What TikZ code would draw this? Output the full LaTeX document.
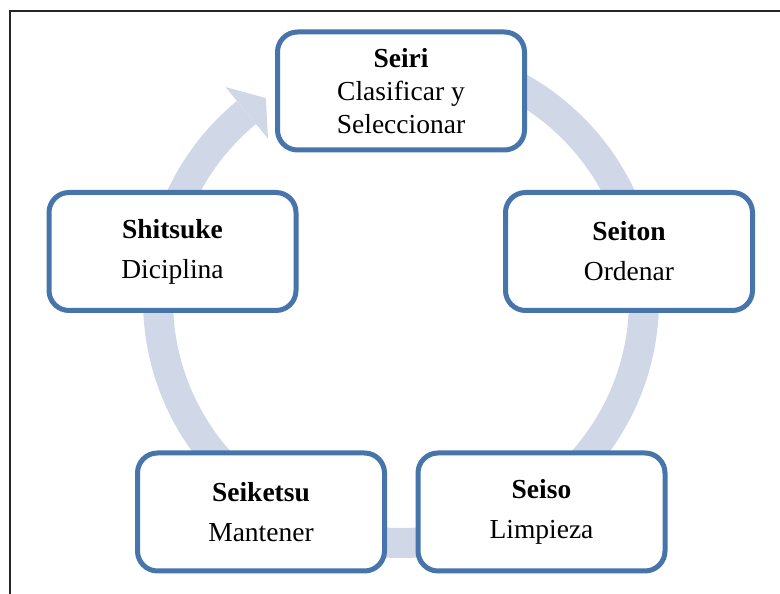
\documentclass[tikz,border=0pt]{standalone}
\usepackage{fontspec}
\setmainfont{Liberation Serif}
\usetikzlibrary{calc}
\definecolor{ringcol}{RGB}{208,216,232}
\definecolor{boxblue}{RGB}{71,116,170}
\begin{document}
\begin{tikzpicture}[x=1pt,y=1pt,
  stagebox/.style={draw=boxblue, line width=5pt, fill=white, rounded corners=20pt,
    minimum width=247pt, minimum height=118pt, align=center, inner sep=0pt,
    font=\fontsize{27.5}{33}\selectfont}]
\useasboundingbox (0,0) rectangle (780,594);
\draw[line width=2pt, black!85] (10,-5) -- (10,583) -- (790,583);
\coordinate (c) at (401,294);
\draw[ringcol, line width=30pt] ($(c)+(90:243)$) arc[start angle=90, end angle=-230.5, radius=243];
\fill[ringcol] ($(c)+(129.5:276)$) -- ($(c)+(123.8:243)$) -- ($(c)+(129.5:209)$) -- cycle;
\node[stagebox] (seiri) at (401,503) {\textbf{Seiri}\\Clasificar y\\Seleccionar};
\node[stagebox] (seiton) at (629,342.5) {\textbf{Seiton}\\[7pt]Ordenar};
\node[stagebox] (seiso) at (541.5,82) {\textbf{Seiso}\\[7pt]Limpieza};
\node[stagebox] (seiketsu) at (261,82) {\textbf{Seiketsu}\\[7pt]Mantener};
\node[stagebox] (shitsuke) at (172.5,342.5) {\textbf{Shitsuke}\\[7pt]Diciplina};
\end{tikzpicture}
\end{document}
